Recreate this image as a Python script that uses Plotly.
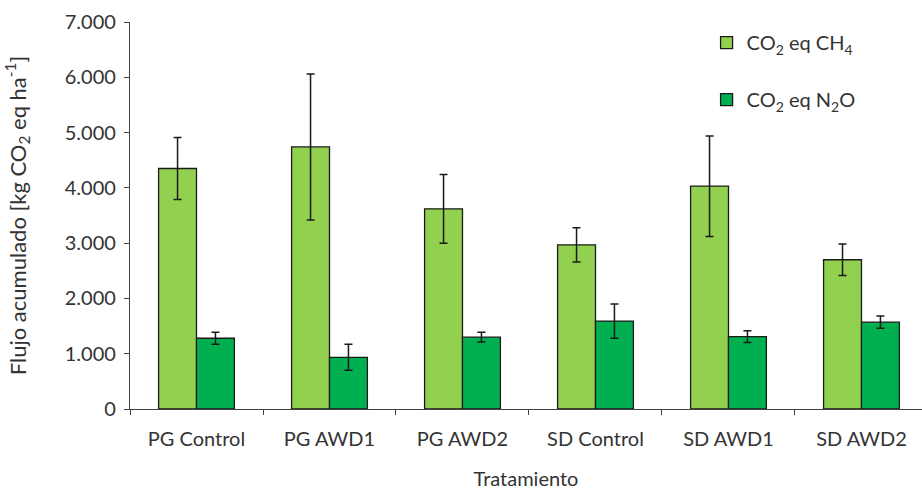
import plotly.graph_objects as go

categories = ["PG Control", "PG AWD1", "PG AWD2", "SD Control", "SD AWD1", "SD AWD2"]
ch4_values = [4350, 4740, 3620, 2970, 4030, 2700]
ch4_errors = [560, 1320, 620, 310, 910, 285]
n2o_values = [1280, 935, 1300, 1590, 1310, 1570]
n2o_errors = [110, 235, 90, 310, 105, 110]
y_ticks = [0, 1000, 2000, 3000, 4000, 5000, 6000, 7000]

FONT = "Lato, 'Open Sans', sans-serif"
TXT = "#333333"

fig = go.Figure()
fig.add_trace(go.Bar(
    x=categories, y=ch4_values, name="CO<sub>2</sub> eq CH<sub>4</sub>",
    marker=dict(color="#92D050", line=dict(color="#1a1a1a", width=1.3)),
    error_y=dict(type="data", array=ch4_errors, color="#1a1a1a", thickness=1.5, width=4),
    legendgroup="a",
))
fig.add_trace(go.Bar(
    x=categories, y=n2o_values, name="CO<sub>2</sub> eq N<sub>2</sub>O",
    marker=dict(color="#00B050", line=dict(color="#1a1a1a", width=1.3)),
    error_y=dict(type="data", array=n2o_errors, color="#1a1a1a", thickness=1.5, width=4),
    legendgroup="b",
))

fig.update_layout(
    width=922, height=492,
    margin=dict(l=130, r=0, t=22, b=83),
    plot_bgcolor="white", paper_bgcolor="white",
    barmode="group", bargap=0.43, bargroupgap=0,
    separators=",.",
    font=dict(family=FONT, size=20, color=TXT),
    legend=dict(x=0.728, y=0.997, xanchor="left", yanchor="top",
                traceorder="grouped", tracegroupgap=28,
                font=dict(family=FONT, size=20, color=TXT),
                bgcolor="rgba(0,0,0,0)"),
    xaxis=dict(
        range=[-0.5, 5.455],
        showline=True, linecolor="#404040", linewidth=1.3,
        ticks="outside", tickson="boundaries", ticklen=5, tickcolor="#404040",
        showgrid=False,
        ticklabelstandoff=12,
        title=dict(text="Tratamiento", standoff=22, font=dict(size=20)),
        tickfont=dict(size=20),
    ),
    yaxis=dict(
        range=[0, 7000], tickvals=y_ticks, tickformat=",.0f",
        showline=True, linecolor="#404040", linewidth=1.3,
        ticks="outside", ticklen=5, tickcolor="#404040",
        showgrid=False, zeroline=False,
        ticklabelstandoff=4,
        title=dict(text="Flujo acumulado [kg CO<sub>2</sub> eq ha<sup>-1</sup>]", standoff=32, font=dict(size=22)),
        tickfont=dict(size=20),
    ),
)

fig.write_html("out.html")
